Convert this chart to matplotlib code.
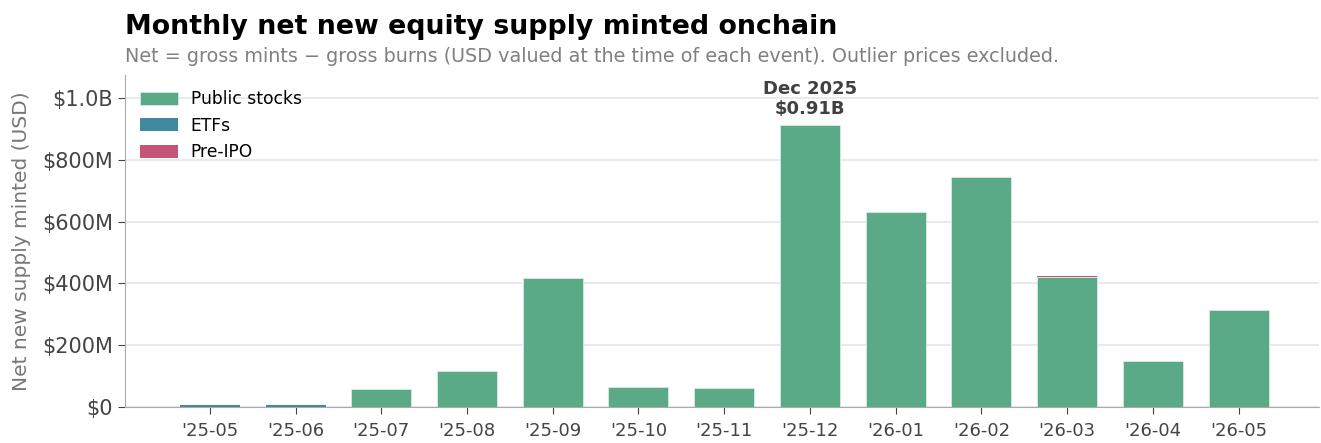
import matplotlib.pyplot as plt
import numpy as np
from matplotlib.ticker import FuncFormatter

months = ["'25-05", "'25-06", "'25-07", "'25-08", "'25-09", "'25-10", "'25-11",
          "'25-12", "'26-01", "'26-02", "'26-03", "'26-04", "'26-05"]
public_stocks = [0, 0, 58e6, 117e6, 417e6, 65e6, 62e6, 913e6, 631e6, 744e6, 422e6, 149e6, 314e6]
etfs = [6e6, 6e6, 0, 0, 0, 0, 0, 0, 0, 0, 0, 0, 0]
pre_ipo = [0, 0, 0, 0, 0, 0, 0, 0, 0, 0, 2e6, 0, 0]

c_pub = "#5aaa88"
c_etf = "#3f8a9e"
c_pre = "#c45574"

fig = plt.figure(figsize=(13.21, 4.43), dpi=100)
ax = fig.add_axes([0.0946, 0.081, 0.904, 0.75])

x = np.arange(len(months))
pub = np.array(public_stocks)
etf = np.array(etfs)
pre = np.array(pre_ipo)
w = 0.7
ax.bar(x, pub, w, color=c_pub, label="Public stocks", edgecolor="#d8ece2", linewidth=0.6)
ax.bar(x, etf, w, bottom=pub, color=c_etf, label="ETFs", linewidth=0)
ax.bar(x, pre, w, bottom=pub + etf, color=c_pre, label="Pre-IPO", linewidth=0)

ax.set_xlim(-0.99, 12.94)
ax.set_ylim(0, 1.074e9)
ax.set_yticks([0, 2e8, 4e8, 6e8, 8e8, 1e9])

def fmt(v, pos):
    if v == 0:
        return "$0"
    if v >= 1e9:
        return "$%.1fB" % (v / 1e9)
    return "$%dM" % round(v / 1e6)

ax.yaxis.set_major_formatter(FuncFormatter(fmt))
ax.set_xticks(x)
ax.set_xticklabels(months)
ax.tick_params(axis="y", labelsize=15, colors="#444444", length=5)
ax.tick_params(axis="x", labelsize=13, colors="#444444", length=5, pad=6)
ax.grid(axis="y", color="#e6e6e6", linewidth=1.2)
ax.set_axisbelow(True)
for s in ["top", "right"]:
    ax.spines[s].set_visible(False)
for s in ["left", "bottom"]:
    ax.spines[s].set_color("#aaaaaa")

ax.set_ylabel("Net new supply minted (USD)", fontsize=14.5, color="#777777", labelpad=8)

total = pub + etf + pre
peak = int(np.argmax(total))
ax.annotate("Dec 2025\n$%.2fB" % (total[peak] / 1e9), (peak, total[peak]),
            xytext=(0, 5), textcoords="offset points", ha="center", va="bottom",
            fontsize=13, fontweight="bold", color="#404040", linespacing=1.1)

leg = ax.legend(loc="upper left", frameon=False, fontsize=12.3, handlelength=2.2,
                handleheight=0.8, borderaxespad=0.5, labelspacing=0.5, handletextpad=0.75)

fig.text(0.0946, 0.91, "Monthly net new equity supply minted onchain", fontsize=19.3,
         fontweight="bold", ha="left", va="bottom")
fig.text(0.0946, 0.85, "Net = gross mints \u2212 gross burns (USD valued at the time of each event). Outlier prices excluded.",
         fontsize=13.8, color="#808080", ha="left", va="bottom")

fig.savefig("out.png", dpi=100)
